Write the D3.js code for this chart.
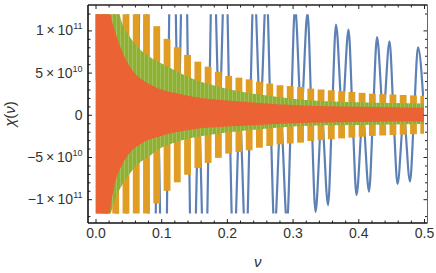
<!DOCTYPE html>
<html>
<head>
<meta charset="utf-8">
<script src="https://cdn.jsdelivr.net/npm/d3@7"></script>
<style>
  html, body { margin: 0; padding: 0; background: #fff; }
  svg { display: block; font-family: "Liberation Sans", Arial, sans-serif; }
</style>
</head>
<body>
<svg id="chart" width="436" height="273"></svg>
<script>
(function () {

  'use strict';

  // ----------- DATA (values in units of 10^11) --------------

  // envelope sample points for the dense oscillations (green, red)
  var envV = [0, 0.02, 0.03, 0.04, 0.05, 0.06, 0.07, 0.08, 0.10, 0.12, 0.15, 0.20, 0.25, 0.30, 0.35, 0.40, 0.45, 0.50];
  var redUpper = [3.0, 1.30, 0.98, 0.76, 0.60, 0.49, 0.42, 0.37, 0.30, 0.26, 0.21, 0.17, 0.14, 0.115, 0.10, 0.095, 0.09, 0.085];
  var redLower = [-3.0, -1.25, -0.80, -0.60, -0.47, -0.39, -0.34, -0.30, -0.25, -0.21, -0.17, -0.14, -0.12, -0.10, -0.09, -0.085, -0.08, -0.08];
  var greenUpper = [3.0, 2.0, 1.45, 1.10, 0.95, 0.84, 0.76, 0.70, 0.61, 0.53, 0.42, 0.31, 0.24, 0.19, 0.16, 0.15, 0.14, 0.135];
  var greenLower = [-3.0, -1.30, -1.00, -0.84, -0.72, -0.62, -0.55, -0.50, -0.39, -0.33, -0.27, -0.21, -0.17, -0.14, -0.125, -0.12, -0.115, -0.11];

  // orange bursts: centre of each burst and its amplitude
  var orangeV = [0.0151, 0.0307, 0.0464, 0.0620, 0.0776, 0.0932, 0.1089, 0.1245, 0.1401, 0.1558,
                 0.1714, 0.1870, 0.2027, 0.2183, 0.2339, 0.2495, 0.2652, 0.2808, 0.2964, 0.3121,
                 0.3277, 0.3433, 0.3589, 0.3746, 0.3902, 0.4058, 0.4214, 0.4371, 0.4527, 0.4683,
                 0.4840, 0.4996];
  var orangeAmp = [3.0, 2.6, 1.9, 1.45, 1.22, 1.05, 0.90, 0.80, 0.71, 0.63,
                   0.57, 0.51, 0.46, 0.44, 0.42, 0.39, 0.37, 0.35, 0.34, 0.33,
                   0.31, 0.30, 0.29, 0.28, 0.27, 0.26, 0.25, 0.245, 0.24, 0.235,
                   0.23, 0.225];

  // blue curve: extrema and zero points
  var blueV = [0, 0.0012, 0.0107, 0.0168, 0.0229, 0.0324, 0.0419, 0.0480, 0.0541, 0.0636,
               0.0731, 0.0792, 0.0853, 0.0948, 0.1043, 0.1104, 0.1165, 0.1260, 0.1355, 0.1416,
               0.1477, 0.1572, 0.1667, 0.1728, 0.1789, 0.1884, 0.1979, 0.2040, 0.2101, 0.2196,
               0.2291, 0.2352, 0.2413, 0.2508, 0.2603, 0.2664, 0.2725, 0.2820, 0.2915, 0.2976,
               0.3037, 0.3132, 0.3227, 0.3288, 0.3349, 0.3444, 0.3539, 0.3600, 0.3661, 0.3756,
               0.3851, 0.3912, 0.3973, 0.4068, 0.4163, 0.4224, 0.4285, 0.4380, 0.4475, 0.4536,
               0.4597, 0.4692, 0.4787, 0.4848, 0.4909, 0.5000];
  var blueY = [4.0, 0.4, 36.0, 0, -16.4, -0.3, -8.9, 0, 7.2, 0.15,
               5.3, 0, -4.4, -0.1, -3.6, 0, 3.35, 0.08, 2.88, 0,
               -2.54, -0.07, -2.25, 0, 2.18, 0.06, 1.97, 0, -1.78, -0.05,
               -1.64, 0, 1.62, 0.05, 1.50, 0, -1.38, -0.05, -1.29, 0,
               1.28, 0.04, 1.21, 0, -1.15, -0.04, -1.07, 0, 1.07, 0.04,
               1.01, 0, -0.95, -0.03, -0.91, 0, 0.92, 0.03, 0.87, 0,
               -0.82, -0.03, -0.79, 0, 0.80, 0.06];

  // ticks
  var xTicks = [0, 0.1, 0.2, 0.3, 0.4, 0.5];
  var xMinor = [0.02, 0.04, 0.06, 0.08, 0.12, 0.14, 0.16, 0.18, 0.22, 0.24, 0.26, 0.28,
                0.32, 0.34, 0.36, 0.38, 0.42, 0.44, 0.46, 0.48];
  var yTicks = [1, 0.5, 0, -0.5, -1];
  var yTickMant = ['1', '5', '0', '\u22125', '\u22121'];
  var yTickExp = ['11', '10', '', '10', '11'];
  var yMinor = [-1.2, -0.9, -0.8, -0.7, -0.6, -0.4, -0.3, -0.2, -0.1,
                0.1, 0.2, 0.3, 0.4, 0.6, 0.7, 0.8, 0.9, 1.2];

  var COLORS = { blue: '#5e81b5', orange: '#e19c24', green: '#8fb032', red: '#eb6235' };

  // ----------- LAYOUT --------------

  var frameLeft = 88, frameRight = 427.5, frameTop = 5, frameBottom = 223;
  var clipTop = 1.19, clipBottom = -1.17;

  var svg = d3.select('#chart');

  var x = d3.scaleLinear().domain([0, 0.5]).range([95.5, 424]);
  var y = d3.scaleLinear().domain([-1, 1]).range([199.2, 30.4]);

  var defs = svg.append('defs');
  defs.append('clipPath').attr('id', 'plotclip')
    .append('rect')
    .attr('x', x(0))
    .attr('y', y(clipTop))
    .attr('width', x(0.5) - x(0))
    .attr('height', y(clipBottom) - y(clipTop));

  // faint vertical streaks seen inside the green band
  var pat = defs.append('pattern').attr('id', 'greenStreaks')
    .attr('patternUnits', 'userSpaceOnUse')
    .attr('width', 4).attr('height', 10);
  pat.append('rect').attr('width', 4).attr('height', 10).attr('fill', COLORS.green);
  pat.append('rect').attr('x', 0).attr('width', 1).attr('height', 10).attr('fill', '#a3c15a');

  var plot = svg.append('g').attr('clip-path', 'url(#plotclip)');

  // blue
  var blueData = blueV.map(function (v, i) { return [v, blueY[i]]; });
  plot.append('path')
    .datum(blueData)
    .attr('fill', 'none')
    .attr('stroke', COLORS.blue)
    .attr('stroke-width', 2.2)
    .attr('stroke-linejoin', 'round')
    .attr('d', d3.line()
      .x(function (d) { return x(d[0]); })
      .y(function (d) { return y(d[1]); })
      .curve(d3.curveMonotoneX));

  // orange bursts
  var halfW = 0.0052;
  plot.selectAll('.orange')
    .data(orangeV)
    .enter()
    .append('rect')
    .attr('class', 'orange')
    .attr('x', function (d) { return x(d - halfW); })
    .attr('width', function (d) { return x(d + halfW) - x(d - halfW); })
    .attr('y', function (d, i) { return y(orangeAmp[i]); })
    .attr('height', function (d, i) { return y(-orangeAmp[i]) - y(orangeAmp[i]); })
    .attr('fill', COLORS.orange);

  // green and red bands
  function band(upper, lower) {
    return envV.map(function (v, i) { return { v: v, hi: upper[i], lo: lower[i] }; });
  }
  var area = d3.area()
    .x(function (d) { return x(d.v); })
    .y0(function (d) { return y(d.lo); })
    .y1(function (d) { return y(d.hi); })
    .curve(d3.curveMonotoneX);

  plot.append('path').datum(band(greenUpper, greenLower))
    .attr('fill', 'url(#greenStreaks)').attr('d', area);
  plot.append('path').datum(band(redUpper, redLower))
    .attr('fill', COLORS.red).attr('d', area);

  // ----------- FRAME & TICKS --------------

  function styleAxis(g) {
    g.select('.domain').remove();
    g.attr('color', '#222');
    g.selectAll('.tick line').attr('stroke-width', 1);
  }

  var axes = svg.append('g');

  axes.append('g').attr('transform', 'translate(0,' + frameBottom + ')')
    .call(d3.axisBottom(x).tickValues(xTicks).tickSize(-4).tickPadding(5)
      .tickFormat(d3.format('.1f')))
    .call(styleAxis)
    .call(function (g) {
      g.attr('font-family', null).attr('font-size', null);
      g.selectAll('text').attr('font-size', 14).attr('fill', '#333');
    });
  axes.append('g').attr('transform', 'translate(0,' + frameBottom + ')')
    .call(d3.axisBottom(x).tickValues(xMinor).tickSize(-2.5).tickFormat(''))
    .call(styleAxis);
  axes.append('g').attr('transform', 'translate(0,' + frameTop + ')')
    .call(d3.axisTop(x).tickValues(xTicks).tickSize(-4).tickFormat(''))
    .call(styleAxis);
  axes.append('g').attr('transform', 'translate(0,' + frameTop + ')')
    .call(d3.axisTop(x).tickValues(xMinor).tickSize(-2.5).tickFormat(''))
    .call(styleAxis);

  axes.append('g').attr('transform', 'translate(' + frameLeft + ',0)')
    .call(d3.axisLeft(y).tickValues(yTicks).tickSize(-4).tickFormat(''))
    .call(styleAxis);
  axes.append('g').attr('transform', 'translate(' + frameLeft + ',0)')
    .call(d3.axisLeft(y).tickValues(yMinor).tickSize(-2.5).tickFormat(''))
    .call(styleAxis);
  axes.append('g').attr('transform', 'translate(' + frameRight + ',0)')
    .call(d3.axisRight(y).tickValues(yTicks).tickSize(-4).tickFormat(''))
    .call(styleAxis);
  axes.append('g').attr('transform', 'translate(' + frameRight + ',0)')
    .call(d3.axisRight(y).tickValues(yMinor).tickSize(-2.5).tickFormat(''))
    .call(styleAxis);

  // frame
  axes.append('line').attr('x1', frameLeft).attr('x2', frameRight)
    .attr('y1', frameBottom).attr('y2', frameBottom)
    .attr('stroke', '#111').attr('stroke-width', 1.6);
  axes.append('line').attr('x1', frameLeft).attr('x2', frameLeft)
    .attr('y1', frameTop).attr('y2', frameBottom)
    .attr('stroke', '#111').attr('stroke-width', 1.6);
  axes.append('line').attr('x1', frameLeft).attr('x2', frameRight)
    .attr('y1', frameTop).attr('y2', frameTop)
    .attr('stroke', '#222').attr('stroke-width', 1.4);
  axes.append('line').attr('x1', frameRight).attr('x2', frameRight)
    .attr('y1', frameTop).attr('y2', frameBottom)
    .attr('stroke', '#666').attr('stroke-width', 1);

  // y tick labels (a x 10^b)
  var ylab = axes.selectAll('.ylab')
    .data(yTicks)
    .enter()
    .append('text')
    .attr('class', 'ylab')
    .attr('x', 82.5)
    .attr('y', function (d) { return y(d) + 5; })
    .attr('text-anchor', 'end')
    .attr('font-size', 14)
    .attr('fill', '#333');
  ylab.each(function (d, i) {
    var t = d3.select(this);
    if (yTickExp[i] === '') {
      t.text(yTickMant[i]);
      return;
    }
    t.append('tspan').text(yTickMant[i] + '\u2009\u00d7\u200910');
    t.append('tspan').attr('dy', -6).attr('font-size', 9).text(yTickExp[i]);
  });

  // axis titles
  var yTitle = svg.append('text')
    .attr('transform', 'translate(15,114) rotate(-90)')
    .attr('text-anchor', 'middle')
    .attr('font-size', 15)
    .attr('fill', '#333');
  yTitle.append('tspan').attr('font-style', 'italic').text('\u03c7');
  yTitle.append('tspan').text('(');
  yTitle.append('tspan').attr('font-style', 'italic').text('\u03bd');
  yTitle.append('tspan').text(')');

  svg.append('text')
    .attr('x', (frameLeft + frameRight) / 2)
    .attr('y', 267)
    .attr('text-anchor', 'middle')
    .attr('font-size', 15)
    .attr('font-style', 'italic')
    .attr('fill', '#333')
    .text('\u03bd');

})();
</script>
</body>
</html>
